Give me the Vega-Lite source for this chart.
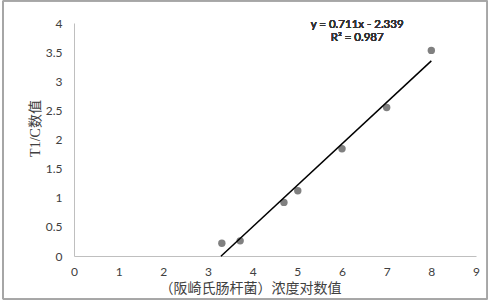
{
  "$schema": "https://vega.github.io/schema/vega-lite/v6.json",
  "autosize": "none",
  "width": 402,
  "height": 233,
  "padding": {"left": 74, "top": 23, "right": 15, "bottom": 47},
  "background": "white",
  "config": {"view": {"stroke": null}},
  "data": {"values": [
    {"x": 3.31, "y": 0.22},
    {"x": 3.72, "y": 0.26},
    {"x": 4.70, "y": 0.92},
    {"x": 5.01, "y": 1.12},
    {"x": 6.00, "y": 1.84},
    {"x": 7.00, "y": 2.55},
    {"x": 8.00, "y": 3.53}
  ]},
  "layer": [
    {
      "mark": {"type": "point", "filled": true, "color": "#808080", "size": 55, "opacity": 1},
      "encoding": {
        "x": {
          "field": "x", "type": "quantitative",
          "scale": {"domain": [0, 9], "nice": false, "zero": false},
          "axis": {
            "tickCount": 9,
            "grid": false, "ticks": false, "domainColor": "#bfbfbf", "domainWidth": 1,
            "labelFont": "Lato", "labelFontSize": 12, "labelColor": "#404040", "labelPadding": 10,
            "labelOverlap": false, "labelFlush": false,
            "title": "（阪崎氏肠杆菌）浓度对数值",
            "titleFont": "Liberation Serif, Noto Sans CJK SC", "titleFontSize": 14, "titleFontWeight": "normal",
            "titleColor": "#404040", "titleAlign": "center", "titleBaseline": "middle",
            "titleX": 176, "titleY": 32
          }
        },
        "y": {
          "field": "y", "type": "quantitative",
          "scale": {"domain": [0, 4], "nice": false},
          "axis": {
            "tickCount": 8,
            "format": "~g",
            "grid": false, "ticks": false, "domainColor": "#bfbfbf", "domainWidth": 1,
            "labelFont": "Lato", "labelFontSize": 12, "labelColor": "#404040", "labelPadding": 12,
            "labelOverlap": false, "labelFlush": false,
            "title": "T1/C数值",
            "titleFont": "Liberation Serif, Noto Sans CJK SC", "titleFontSize": 14, "titleFontWeight": "normal",
            "titleColor": "#404040", "titleAlign": "center", "titleBaseline": "middle", "titleAngle": -90,
            "titleX": -39, "titleY": 105
          }
        }
      }
    },
    {
      "mark": {"type": "rect", "fill": null, "stroke": "#a6a6a6", "strokeWidth": 1, "clip": false},
      "encoding": {
        "x": {"datum": -1.59, "type": "quantitative"},
        "x2": {"datum": 9.25},
        "y": {"datum": 4.38, "type": "quantitative"},
        "y2": {"datum": -0.74}
      }
    },
    {
      "transform": [{"regression": "y", "on": "x", "method": "linear", "extent": [3.29, 8]}],
      "mark": {"type": "line", "color": "black", "strokeWidth": 1.5},
      "encoding": {
        "x": {"field": "x", "type": "quantitative"},
        "y": {"field": "y", "type": "quantitative"}
      }
    },
    {
      "mark": {"type": "text", "text": ["y = 0.711x - 2.339", "R² = 0.987"], "font": "Lato", "fontSize": 11.5, "fontWeight": "normal", "lineHeight": 13, "color": "#333333", "align": "center", "baseline": "middle", "clip": false},
      "encoding": {
        "x": {"datum": 6.34, "type": "quantitative"},
        "y": {"datum": 3.97, "type": "quantitative"}
      }
    }
  ]
}
